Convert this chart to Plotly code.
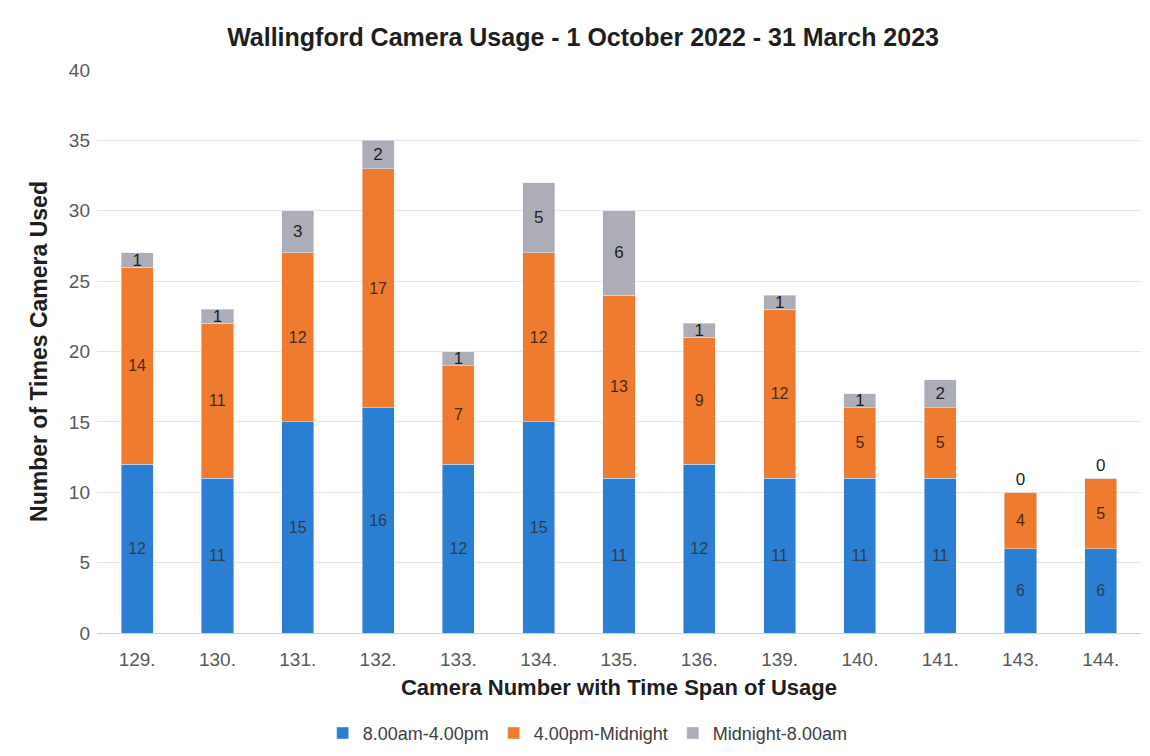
import plotly.graph_objects as go

cameras = ["129.", "130.", "131.", "132.", "133.", "134.", "135.", "136.", "139.", "140.", "141.", "143.", "144."]
day = [12, 11, 15, 16, 12, 15, 11, 12, 11, 11, 11, 6, 6]
evening = [14, 11, 12, 17, 7, 12, 13, 9, 12, 5, 5, 4, 5]
night = [1, 1, 3, 2, 1, 5, 6, 1, 1, 1, 2, 0, 0]

series_names = ["8.00am-4.00pm", "4.00pm-Midnight", "Midnight-8.00am"]
colors = ["#2B7FD3", "#EF7B2E", "#ADADB8"]

FONT = "Liberation Sans"

fig = go.Figure()
fig.add_trace(go.Bar(
    x=cameras, y=day, name=series_names[0], marker_color=colors[0],
    text=day, textposition="inside", insidetextanchor="middle", textangle=0,
    textfont=dict(size=16, color="#2c3e50", family=FONT),
    constraintext="none",
))
fig.add_trace(go.Bar(
    x=cameras, y=evening, name=series_names[1], marker_color=colors[1],
    text=evening, textposition="inside", insidetextanchor="middle", textangle=0,
    textfont=dict(size=16, color="#4a2a1a", family=FONT),
    constraintext="none",
))
fig.add_trace(go.Bar(
    x=cameras, y=night, name=series_names[2], marker_color=colors[2],
    text=night,
    textposition=["inside" if v > 0 else "outside" for v in night],
    insidetextanchor="middle", textangle=0,
    textfont=dict(size=17, color="#1e1e1e", family=FONT),
    outsidetextfont=dict(size=17, color="#1e1e1e", family=FONT),
    constraintext="none", cliponaxis=False,
))

fig.update_layout(
    barmode="stack",
    bargap=0.6,
    width=1150, height=756,
    margin=dict(l=97, r=9, t=70, b=123),
    paper_bgcolor="white", plot_bgcolor="white",
    font=dict(family=FONT, color="#595959"),
    title=dict(
        text="<b>Wallingford Camera Usage - 1 October 2022 - 31 March 2023</b>",
        x=0.507, xanchor="center", y=0.951, yanchor="middle",
        font=dict(size=25, color="#1e1e1e", family=FONT),
    ),
    legend=dict(
        orientation="h", x=0.47, xanchor="center",
        yref="container", y=0.03, yanchor="middle",
        font=dict(size=18, color="#404040"), traceorder="normal",
        itemwidth=30,
    ),
    xaxis=dict(
        title=dict(text="<b>Camera Number with Time Span of Usage</b>",
                   font=dict(size=22, color="#1e1e1e"), standoff=10),
        tickfont=dict(size=19, color="#595959"),
        showline=True, linecolor="#d0d0d0", linewidth=1,
        ticks="", ticklabelstandoff=9, automargin=False,
    ),
    yaxis=dict(
        title=dict(text="<b>Number of Times Camera Used</b>",
                   font=dict(size=23, color="#1e1e1e"), standoff=14),
        range=[0, 40], dtick=5,
        tickfont=dict(size=19, color="#595959"),
        gridcolor="#e4e4e4", zeroline=False, showline=False,
        ticks="", ticklabelstandoff=6, automargin=False,
    ),
)

fig.write_html("out.html")
